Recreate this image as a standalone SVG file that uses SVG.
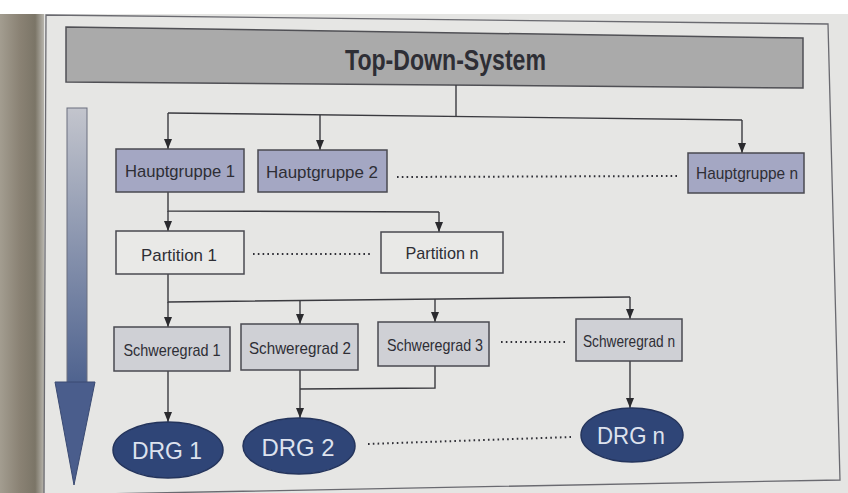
<svg xmlns="http://www.w3.org/2000/svg" width="848" height="493" viewBox="0 0 848 493">
<defs>
<linearGradient id="binding" x1="0" y1="0" x2="1" y2="0">
<stop offset="0" stop-color="#a39d90"/>
<stop offset="0.45" stop-color="#8a8274"/>
<stop offset="0.8" stop-color="#7b7567"/>
<stop offset="1" stop-color="#b8b5ad"/>
</linearGradient>
<linearGradient id="shaft" x1="0" y1="0" x2="0" y2="1">
<stop offset="0" stop-color="#c3c5cd"/>
<stop offset="1" stop-color="#4f638f"/>
</linearGradient>
<marker id="ah" markerUnits="userSpaceOnUse" markerWidth="10" markerHeight="8" refX="10" refY="4" orient="auto">
<path d="M0,0 L10,4 L0,8 z" fill="#2a2a2e"/>
</marker>
<style>
.t{font-family:"Liberation Sans",Arial,sans-serif;fill:#2e2e35;text-anchor:middle}
.lbl{font-size:17px}
.drg{font-size:24px;fill:#dde2ee}
.hg{fill:#a4a7c3;stroke:#4a4a50;stroke-width:1.5}
.pt{fill:#e9e9e7;stroke:#4a4a50;stroke-width:1.5}
.sg{fill:#cfd0d5;stroke:#4a4a50;stroke-width:1.5}
.el{fill:#2f4577;stroke:#24345c;stroke-width:1.5}
.c{fill:none;stroke:#3a3a3f;stroke-width:1.4}
.d{fill:none;stroke:#2e2e35;stroke-width:2;stroke-dasharray:1.6 3.2}
</style>
</defs>
<rect x="0" y="0" width="848" height="493" fill="#e5e5e3"/>
<rect x="0" y="0" width="848" height="14" fill="#ffffff"/>
<rect x="0" y="14" width="44" height="479" fill="url(#binding)"/>
<polygon points="46,15 828,24 840,480 44,495" fill="#e6e6e4" stroke="#6a6a70" stroke-width="1.3"/>

<g id="direction-arrow">
<rect x="67" y="108" width="20" height="275" fill="url(#shaft)" stroke="#6a6e7e" stroke-width="1"/>
<polygon points="55,382 95,382 74,485" fill="#4a5d8c" stroke="#3a4a72" stroke-width="1"/>
</g>

<g id="top-down-system">
<polygon points="66,27 803,38 803,88 66,82" fill="#aaaaaa" stroke="#505055" stroke-width="1.5"/>
<text class="t" x="445.5" y="70" font-size="29" font-weight="bold" fill="#1e1e22" textLength="201" lengthAdjust="spacingAndGlyphs">Top-Down-System</text>
</g>

<g id="connectors">
<line class="c" x1="456" y1="85" x2="456" y2="116.5"/>
<line class="c" x1="168" y1="113" x2="742" y2="120"/>
<line class="c" x1="168" y1="113" x2="168" y2="149" marker-end="url(#ah)"/>
<line class="c" x1="320" y1="115" x2="320" y2="150" marker-end="url(#ah)"/>
<line class="c" x1="742" y1="120" x2="742" y2="153" marker-end="url(#ah)"/>
<polyline class="c" points="168,192 168,211 439,212"/>
<line class="c" x1="168" y1="211" x2="168" y2="231" marker-end="url(#ah)"/>
<line class="c" x1="439" y1="212" x2="439" y2="232" marker-end="url(#ah)"/>
<polyline class="c" points="168,274 168,302 630,297"/>
<line class="c" x1="168" y1="302" x2="168" y2="327" marker-end="url(#ah)"/>
<line class="c" x1="300" y1="300.6" x2="300" y2="324" marker-end="url(#ah)"/>
<line class="c" x1="435" y1="299.1" x2="435" y2="322" marker-end="url(#ah)"/>
<line class="c" x1="630" y1="297" x2="630" y2="319" marker-end="url(#ah)"/>
<line class="c" x1="168" y1="371" x2="168" y2="422" marker-end="url(#ah)"/>
<line class="c" x1="300" y1="370" x2="300" y2="418" marker-end="url(#ah)"/>
<polyline class="c" points="435,366 435,388 300,389"/>
<line class="c" x1="630" y1="361" x2="630" y2="408" marker-end="url(#ah)"/>
<line class="d" x1="397" y1="177" x2="677" y2="176"/>
<line class="d" x1="253" y1="254" x2="371" y2="254"/>
<line class="d" x1="501" y1="342" x2="566" y2="342"/>
<line class="d" x1="368" y1="444" x2="571" y2="437"/>
</g>

<g id="hauptgruppe-1">
<rect class="hg" x="116" y="149" width="128" height="43"/>
<text class="t lbl" x="180" y="177" textLength="110" lengthAdjust="spacingAndGlyphs">Hauptgruppe 1</text>
</g>
<g id="hauptgruppe-2">
<rect class="hg" x="258" y="150" width="129" height="42"/>
<text class="t lbl" x="322" y="178" textLength="112" lengthAdjust="spacingAndGlyphs">Hauptgruppe 2</text>
</g>
<g id="hauptgruppe-n">
<rect class="hg" x="688" y="153" width="116" height="40"/>
<text class="t lbl" x="747" y="179" font-size="16" textLength="102" lengthAdjust="spacingAndGlyphs">Hauptgruppe n</text>
</g>

<g id="partition-1">
<rect class="pt" x="116" y="231" width="128" height="43"/>
<text class="t lbl" x="179" y="261" textLength="76" lengthAdjust="spacingAndGlyphs">Partition 1</text>
</g>
<g id="partition-n">
<rect class="pt" x="381" y="232" width="122" height="41"/>
<text class="t lbl" x="442" y="259" textLength="73" lengthAdjust="spacingAndGlyphs">Partition n</text>
</g>

<g id="schweregrad-1">
<rect class="sg" x="114" y="327" width="116" height="44"/>
<text class="t lbl" x="172" y="356" font-size="16" textLength="97" lengthAdjust="spacingAndGlyphs">Schweregrad 1</text>
</g>
<g id="schweregrad-2">
<rect class="sg" x="241" y="324" width="117" height="46"/>
<text class="t lbl" x="300" y="354" font-size="16" textLength="102" lengthAdjust="spacingAndGlyphs">Schweregrad 2</text>
</g>
<g id="schweregrad-3">
<rect class="sg" x="378" y="322" width="111" height="44"/>
<text class="t lbl" x="435" y="351" font-size="16" textLength="96" lengthAdjust="spacingAndGlyphs">Schweregrad 3</text>
</g>
<g id="schweregrad-n">
<rect class="sg" x="576" y="319" width="106" height="42"/>
<text class="t lbl" x="629" y="347" font-size="16" textLength="92" lengthAdjust="spacingAndGlyphs">Schweregrad n</text>
</g>

<g id="drg-1">
<ellipse class="el" cx="168" cy="450" rx="55" ry="28"/>
<text class="t drg" x="167" y="459" textLength="70" lengthAdjust="spacingAndGlyphs">DRG 1</text>
</g>
<g id="drg-2">
<ellipse class="el" cx="299" cy="446" rx="56" ry="28"/>
<text class="t drg" x="298" y="456" textLength="73" lengthAdjust="spacingAndGlyphs">DRG 2</text>
</g>
<g id="drg-n">
<ellipse class="el" cx="632" cy="435" rx="51" ry="27"/>
<text class="t drg" x="631" y="444" textLength="68" lengthAdjust="spacingAndGlyphs">DRG n</text>
</g>
</svg>
